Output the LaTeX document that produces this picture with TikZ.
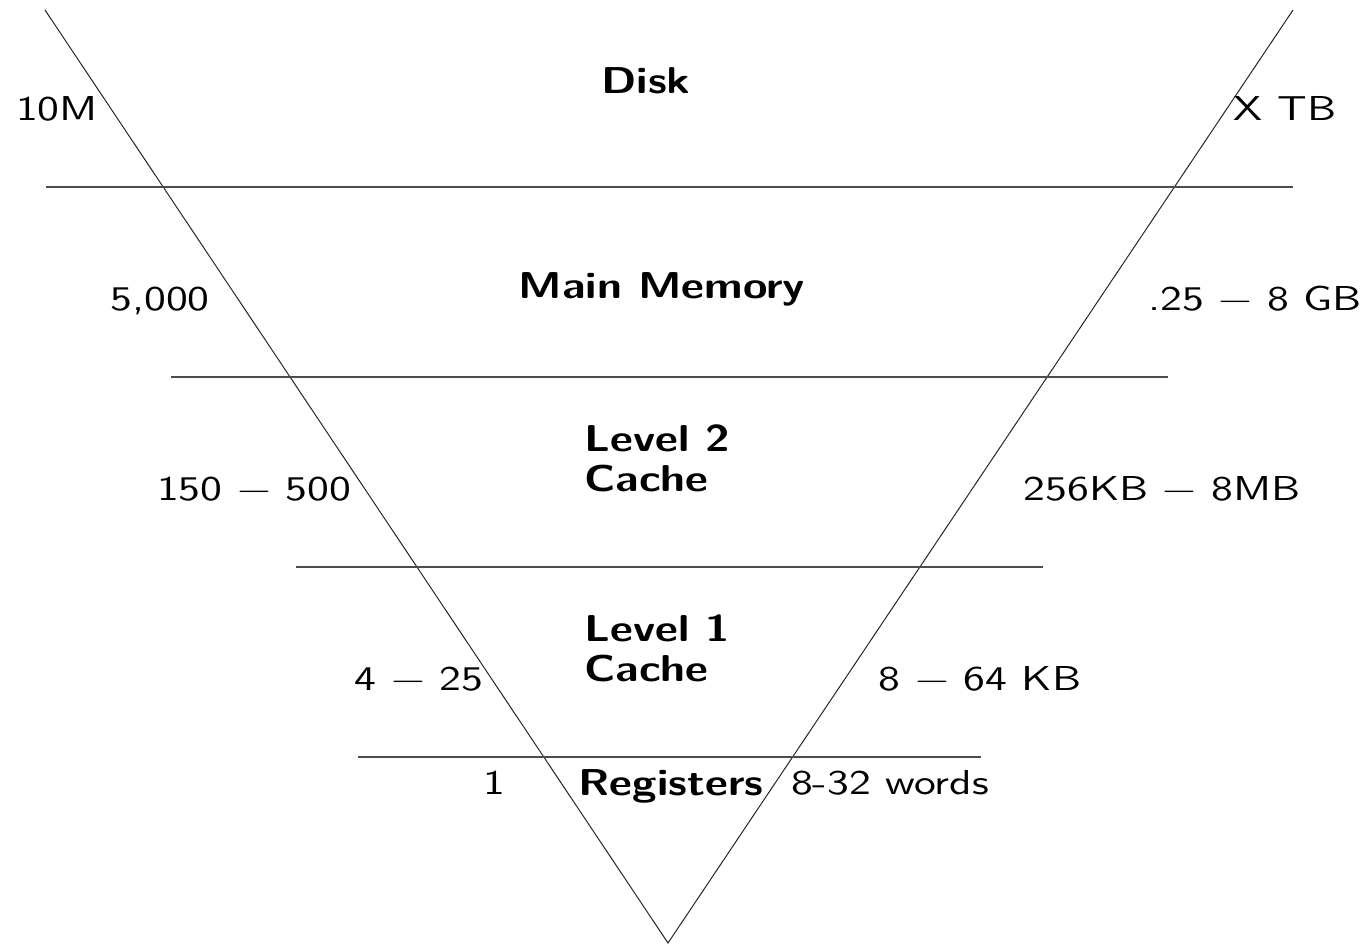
\documentclass[tikz,border=0pt]{standalone}
\usepackage{fontspec}
\newfontfamily\labelsf{lmsans10-regular.otf}[FakeStretch=1.26]
\newfontfamily\headsf{lmsans10-bold.otf}[FakeStretch=1.19]
\begin{document}
\begin{tikzpicture}[x=0.5pt,y=-0.5pt,
  lbl/.style={anchor=base,inner sep=0pt,font=\labelsf\fontsize{17.3}{21}\selectfont},
  head/.style={lbl,font=\headsf\fontsize{18.7}{22.5}\selectfont},
  edge/.style={line width=0.5pt,black!85},
  level/.style={line width=0.7pt,black!70}]
\useasboundingbox (0,0) rectangle (1366,945);
% funnel outline
\coordinate (tl) at (45,10);
\coordinate (tr) at (1293,10);
\coordinate (apex) at (668,943);
\draw[edge] (tl) -- (apex) -- (tr);
% level separators
\coordinate (a1) at (46,187);  \coordinate (b1) at (1293,187);
\coordinate (a2) at (171,377); \coordinate (b2) at (1168,377);
\coordinate (a3) at (296,567); \coordinate (b3) at (1043,567);
\coordinate (a4) at (358,757); \coordinate (b4) at (981,757);
\draw[level] (a1) -- (b1);
\draw[level] (a2) -- (b2);
\draw[level] (a3) -- (b3);
\draw[level] (a4) -- (b4);
% level names
\node[head] (disk) at (646,94) {Disk};
\node[head] (mem) at (662,299) {Main Memory};
\node[head,anchor=base west] (l2a) at (584,452) {Level 2};
\node[head,anchor=base west] (l2b) at (584,492) {Cache};
\node[head,anchor=base west] (l1a) at (584,642) {Level 1};
\node[head,anchor=base west] (l1b) at (584,682) {Cache};
\node[head] (reg) at (671,796) {Registers};
% access times
\node[lbl] (t1) at (57,121) {10M};
\node[lbl] (t2) at (160,311) {5,000};
\node[lbl] (t3) at (254,501) {150 − 500};
\node[lbl] (t4) at (419,691) {4 − 25};
\node[lbl] (t5) at (494,795) {1};
% capacities
\node[lbl] (c1) at (1285,121) {X TB};
\node[lbl] (c2) at (1255,311) {.25 − 8 GB};
\node[lbl] (c3) at (1162,501) {256KB − 8MB};
\node[lbl] (c4) at (980,691) {8 − 64 KB};
\node[lbl] (c5) at (890,795) {8-32 words};
\end{tikzpicture}
\end{document}
